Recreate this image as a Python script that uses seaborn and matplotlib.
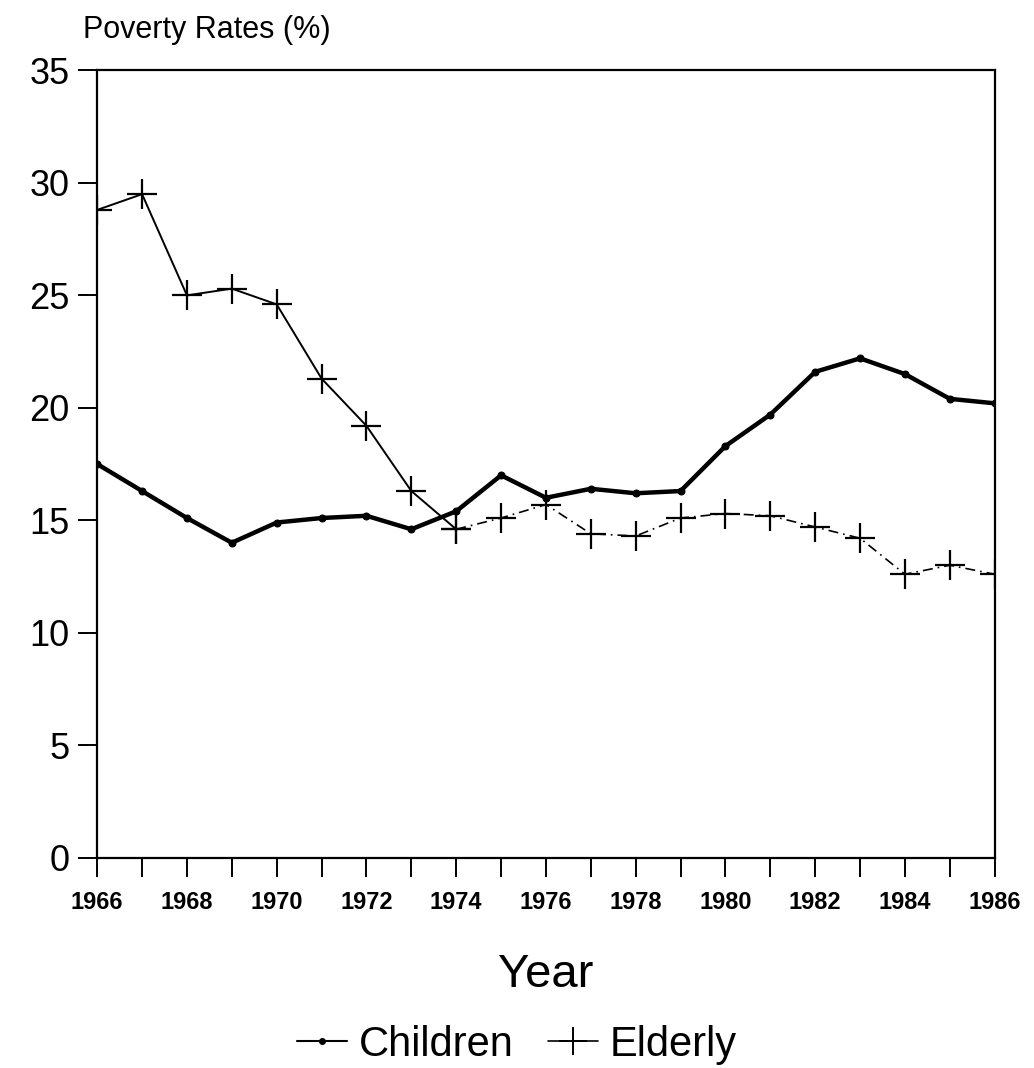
import numpy as np
import pandas as pd
import matplotlib
matplotlib.use("Agg")
import matplotlib.pyplot as plt
import seaborn as sns
from matplotlib.lines import Line2D

years = list(range(1966, 1987))
children = [17.5, 16.3, 15.1, 14.0, 14.9, 15.1, 15.2, 14.6, 15.4, 17.0, 16.0,
            16.4, 16.2, 16.3, 18.3, 19.7, 21.6, 22.2, 21.5, 20.4, 20.2]
elderly = [28.8, 29.5, 25.0, 25.3, 24.6, 21.3, 19.2, 16.3, 14.6, 15.1, 15.7,
           14.4, 14.3, 15.1, 15.3, 15.2, 14.7, 14.2, 12.6, 13.0, 12.6]

sns.set_theme(style="ticks")
plt.rcParams['font.family'] = ['Liberation Sans', 'DejaVu Sans']
plt.rcParams['text.color'] = 'black'
plt.rcParams['xtick.color'] = 'black'
plt.rcParams['ytick.color'] = 'black'
plt.rcParams['axes.labelcolor'] = 'black'

df = pd.DataFrame({"Year": years, "Children": children, "Elderly": elderly})

fig = plt.figure(figsize=(10.34, 10.68), dpi=100)
ax = fig.add_axes([0.094, 0.197, 0.868, 0.737])

sns.lineplot(data=df, x="Year", y="Children", ax=ax, color="black", lw=3.2,
             marker="o", markersize=5, markeredgecolor="black", legend=False)

# elderly: solid early part, dash-dot later part
early = df[df["Year"] <= 1974]
late = df[df["Year"] >= 1974]
sns.lineplot(data=early, x="Year", y="Elderly", ax=ax, color="black", lw=1.4,
             marker="+", markersize=22, markeredgewidth=1.6,
             markeredgecolor="black", legend=False)
sns.lineplot(data=late, x="Year", y="Elderly", ax=ax, color="black", lw=1.2,
             linestyle=(0, (6, 3, 1, 3)), marker="+", markersize=22,
             markeredgewidth=1.6, markeredgecolor="black", legend=False)

ax.set_xlim(1966, 1986)
ax.set_ylim(0, 35)
ax.set_xticks(years)
ax.set_xticklabels([str(y) if y % 2 == 0 else "" for y in years],
                   fontsize=17, fontweight="bold")
ax.set_yticks(range(0, 36, 5))
ax.set_yticklabels([str(v) for v in range(0, 36, 5)], fontsize=26)
ax.tick_params(axis="x", direction="out", length=14, width=1.4, pad=10)
ax.tick_params(axis="y", direction="out", length=14, width=1.4, pad=6)
for s in ax.spines.values():
    s.set_linewidth(1.6)
    s.set_color("black")

ax.set_xlabel("Year", fontsize=34, labelpad=28)
ax.set_ylabel("")
fig.text(0.08, 0.972, "Poverty Rates (%)", fontsize=22, ha="left", va="center")

handles = [
    Line2D([0], [0], color="black", lw=1.5, marker="o", markersize=4),
    Line2D([0], [0], color="black", lw=1.2, marker="+", markersize=20,
           markeredgewidth=1.4),
]
fig.legend(handles, ["Children", "Elderly"], loc="center",
           bbox_to_anchor=(0.5, 0.022), ncol=2, frameon=False, fontsize=30,
           handlelength=1.2, handletextpad=0.3, columnspacing=0.8)

fig.savefig("out.png", dpi=100)
